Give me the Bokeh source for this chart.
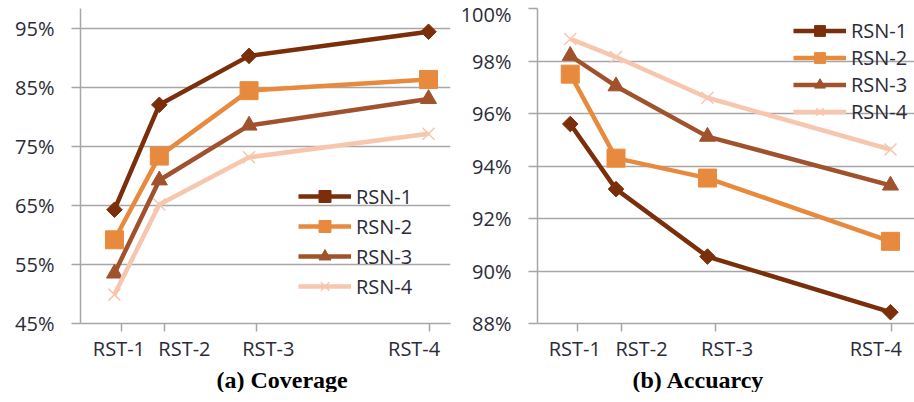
import numpy as np
from bokeh.plotting import figure
from bokeh.layouts import row
from bokeh.models import (Range1d, FixedTicker, NumeralTickFormatter,
                          Title, Legend)
from bokeh.embed import file_html
from bokeh.resources import INLINE

# ---------------- data ----------------
rst_labels = ["RST-1", "RST-2", "RST-3", "RST-4"]
rst_x = [1, 2, 4, 8]
series_names = ["RSN-1", "RSN-2", "RSN-3", "RSN-4"]

coverage_rsn1 = [0.643, 0.821, 0.904, 0.945]
coverage_rsn2 = [0.592, 0.734, 0.845, 0.864]
coverage_rsn3 = [0.535, 0.693, 0.786, 0.831]
coverage_rsn4 = [0.499, 0.652, 0.732, 0.772]

accuracy_rsn1 = [0.9560, 0.9312, 0.9055, 0.8843]
accuracy_rsn2 = [0.9750, 0.9430, 0.9354, 0.9113]
accuracy_rsn3 = [0.9820, 0.9704, 0.9512, 0.9326]
accuracy_rsn4 = [0.9884, 0.9815, 0.9660, 0.9463]

coverage_ticks = [0.45, 0.55, 0.65, 0.75, 0.85, 0.95]
accuracy_ticks = [0.88, 0.90, 0.92, 0.94, 0.96, 0.98, 1.00]

# ---------------- style ----------------
colors = ["#7A2E0A", "#E88A3E", "#A0522D", "#F7C6AE"]
markers = ["square", "square", "triangle", "x"]
angles = [np.pi / 4, 0, 0, 0]
sizes = [11, 18, 16, 17]
GRID = "#A6A6A6"
TXT = "#2B2B38"
FONT = "Open Sans"

# axis tick-mark and tick-label positions (x units)
tick_mark_pos = [1.15, 2.12, 4.17, 8.03]
tick_label_pos = [1.10, 2.56, 4.43, 7.68]


def make_panel(width, height, xr, yr, yticks, series, title, title_offset,
               mb_left, mb_right, mb_top, legend_loc, legend_h):
    p = figure(width=width, height=height, x_range=Range1d(*xr),
               y_range=Range1d(*yr), output_backend="svg",
               toolbar_location=None, min_border_left=mb_left,
               min_border_right=mb_right, min_border_top=mb_top,
               min_border_bottom=40)
    p.outline_line_color = None
    p.background_fill_color = "white"
    p.border_fill_color = "white"
    p.xgrid.grid_line_color = None
    p.ygrid.grid_line_color = GRID
    p.ygrid.grid_line_width = 1.5
    p.ygrid.ticker = FixedTicker(ticks=yticks)

    # y axis
    ya = p.yaxis[0]
    ya.ticker = FixedTicker(ticks=yticks)
    ya.formatter = NumeralTickFormatter(format="0%")
    ya.axis_line_color = GRID
    ya.axis_line_width = 1.5
    ya.major_tick_line_color = GRID
    ya.major_tick_line_width = 1.5
    ya.major_tick_out = 9
    ya.major_tick_in = 0
    ya.minor_tick_line_color = None
    ya.major_label_standoff = 17
    ya.major_label_text_font = FONT
    ya.major_label_text_font_size = "20px"
    ya.major_label_text_color = TXT

    # x axis: labels as major ticks, tick marks as minor ticks
    xa = p.xaxis[0]
    xa.ticker = FixedTicker(ticks=tick_label_pos, minor_ticks=tick_mark_pos)
    xa.major_label_overrides = {t: l for t, l in zip(tick_label_pos, rst_labels)}
    xa.axis_line_color = GRID
    xa.axis_line_width = 1.5
    xa.major_tick_line_color = None
    xa.major_tick_out = 0
    xa.major_tick_in = 0
    xa.minor_tick_line_color = GRID
    xa.minor_tick_line_width = 1.5
    xa.minor_tick_out = 8
    xa.minor_tick_in = 0
    xa.major_label_standoff = 3
    xa.major_label_text_font = FONT
    xa.major_label_text_font_size = "20px"
    xa.major_label_text_color = TXT

    t = Title(text=title, align="left", offset=title_offset,
              text_font="Liberation Serif", text_font_size="24px",
              text_font_style="bold", text_color="black", standoff=0)
    p.add_layout(t, "below")

    items = []
    for name, vals, c, m, a, s in zip(series_names, series, colors, markers,
                                      angles, sizes):
        r1 = p.line(rst_x, vals, line_color=c, line_width=4.5)
        if m == "x":
            r2 = p.scatter(rst_x, vals, marker=m, size=s, line_color=c,
                           line_width=1.5)
        else:
            r2 = p.scatter(rst_x, vals, marker=m, size=s, angle=a,
                           fill_color=c, line_color=c)
        items.append((name, [r1, r2]))

    leg = Legend(items=items, location=legend_loc, padding=0, margin=0,
                 spacing=0, glyph_width=53, glyph_height=legend_h,
                 label_height=legend_h, label_standoff=5,
                 label_text_font=FONT, label_text_font_size="20px",
                 label_text_color=TXT, border_line_color=None,
                 background_fill_alpha=0)
    p.add_layout(leg, "center")
    return p


left = make_panel(455, 392, (0.243, 8.49), (0.45, 0.9844), coverage_ticks,
                  [coverage_rsn1, coverage_rsn2, coverage_rsn3, coverage_rsn4],
                  "(a) Coverage", 136, 80, 5, 0, (218, 22), 30)
right = make_panel(459, 392, (0.284, 8.525), (0.88, 1.0), accuracy_ticks,
                   [accuracy_rsn1, accuracy_rsn2, accuracy_rsn3, accuracy_rsn4],
                   "(b) Accuarcy", 95, 82, 0, 8, (256, 198), 27)

layout = row(left, right)
open("out.html", "w").write(file_html(layout, INLINE))
